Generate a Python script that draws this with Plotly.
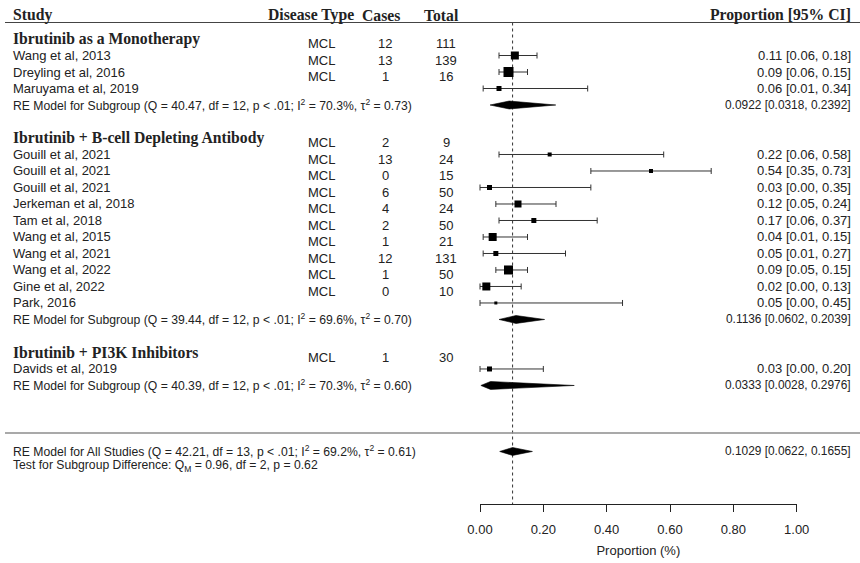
import math
import plotly.graph_objects as go

# ---- subgroup: ibrutinib monotherapy ----
mono_name = "Ibrutinib as a Monotherapy"
mono_studies = ["Wang et al, 2013", "Dreyling et al, 2016", "Maruyama et al, 2019"]
mono_est = [0.11, 0.09, 0.06]
mono_lb = [0.06, 0.06, 0.01]
mono_ub = [0.18, 0.15, 0.34]
mono_cases = [12, 13, 1]
mono_total = [111, 139, 16]
mono_weight = [6.0, 10.0, 2.0]
mono_re = (0.0922, 0.0318, 0.2392)
mono_het = (40.47, 12, 70.3, 0.73)

# ---- subgroup: ibrutinib + B-cell depleting antibody ----
bcell_name = "Ibrutinib + B-cell Depleting Antibody"
bcell_studies = ["Gouill et al, 2021", "Gouill et al, 2021", "Gouill et al, 2021",
                 "Jerkeman et al, 2018", "Tam et al, 2018", "Wang et al, 2015",
                 "Wang et al, 2021", "Wang et al, 2022", "Gine et al, 2022", "Park, 2016"]
bcell_est = [0.22, 0.54, 0.03, 0.12, 0.17, 0.04, 0.05, 0.09, 0.02, 0.05]
bcell_lb = [0.06, 0.35, 0.00, 0.05, 0.06, 0.01, 0.01, 0.05, 0.00, 0.00]
bcell_ub = [0.58, 0.73, 0.35, 0.24, 0.37, 0.15, 0.27, 0.15, 0.13, 0.45]
bcell_cases = [2, 13, 0, 6, 4, 2, 1, 12, 1, 0]
bcell_total = [9, 24, 15, 50, 24, 50, 21, 131, 50, 10]
bcell_weight = [1.1, 1.5, 2.0, 5.2, 2.0, 6.0, 2.0, 7.9, 6.9, 0.8]
bcell_re = (0.1136, 0.0602, 0.2039)
bcell_het = (39.44, 12, 69.6, 0.70)

# ---- subgroup: ibrutinib + PI3K inhibitors ----
pi3k_name = "Ibrutinib + PI3K Inhibitors"
pi3k_studies = ["Davids et al, 2019"]
pi3k_est = [0.03]
pi3k_lb = [0.00]
pi3k_ub = [0.20]
pi3k_cases = [1]
pi3k_total = [30]
pi3k_weight = [2.5]
pi3k_re = (0.0333, 0.0028, 0.2976)
pi3k_het = (40.39, 12, 70.3, 0.60)

disease_type = "MCL"

# ---- pooled model ----
overall_re = (0.1029, 0.0622, 0.1655)
overall_het = (42.21, 13, 69.2, 0.61)
subgroup_test = (0.96, 2, 0.62)

tick_vals = [0.0, 0.2, 0.4, 0.6, 0.8, 1.0]

# ---------------------------------------------------------------------------
W, H = 860, 563
TEXT = "#222222"
SANS = "Liberation Sans, Arial, sans-serif"
SERIF = "Liberation Serif, Times New Roman, serif"
FS = 13          # study names, table cells
FS_STAT = 12.2   # heterogeneity / test lines
FS_POOL = 11.9   # pooled estimates with four decimals
FS_HEAD = 15.7

# row units on the y axis (top row = 0); one row is 16.5 px
Y_TOP, Y_BOT = -2.364, 31.76
# horizontal pixel <-> data mapping: 0 -> 480 px, 1 -> 796.7 px
PX0, PX1 = 480.0, 796.7
X_LO = -PX0 / (PX1 - PX0)
X_HI = (W - PX0) / (PX1 - PX0)


def px(x):
    return x / W


groups = [
    (mono_name, mono_studies, mono_est, mono_lb, mono_ub, mono_cases, mono_total, mono_weight, mono_re, mono_het),
    (bcell_name, bcell_studies, bcell_est, bcell_lb, bcell_ub, bcell_cases, bcell_total, bcell_weight, bcell_re, bcell_het),
    (pi3k_name, pi3k_studies, pi3k_est, pi3k_lb, pi3k_ub, pi3k_cases, pi3k_total, pi3k_weight, pi3k_re, pi3k_het),
]

fig = go.Figure()
annotations = []


def label(text, x, y, anchor="left", size=FS, family=SANS, bold=False):
    if bold:
        text = "<b>" + text + "</b>"
    annotations.append(dict(
        text=text, x=px(x), y=y, xref="paper", yref="y",
        xanchor=anchor, yanchor="middle", showarrow=False,
        borderpad=0, borderwidth=0,
        font=dict(family=family, size=size, color=TEXT),
    ))


def het_text(prefix, het):
    q, df, i2, tau2 = het
    return (f"{prefix} (Q = {q:.2f}, df = {df}, p &lt; .01; I<sup>2</sup> = {i2:.1f}%, "
            f"τ<sup>2</sup> = {tau2:.2f})")


def diamond(y, est, lb, ub, h=0.24):
    fig.add_trace(go.Scatter(
        x=[lb, est, ub, est, lb], y=[y, y - h, y, y + h, y],
        mode="lines", fill="toself", fillcolor="black",
        line=dict(color="black", width=0.6),
        hoverinfo="skip", showlegend=False,
    ))


# column headers
label("Study", 13, -1.45, family=SERIF, size=FS_HEAD, bold=True)
label("Disease Type", 354, -1.45, anchor="right", family=SERIF, size=FS_HEAD, bold=True)
label("Cases", 380.5, -1.45, anchor="center", family=SERIF, size=FS_HEAD, bold=True)
label("Total", 441.5, -1.45, anchor="center", family=SERIF, size=FS_HEAD, bold=True)
label("Proportion [95% CI]", 851, -1.45, anchor="right", family=SERIF, size=FS_HEAD, bold=True)

all_y, all_x, all_plus, all_minus, all_size = [], [], [], [], []
w_max = max(mono_weight + bcell_weight + pi3k_weight)

row = 0
for (gname, studies, est, lb, ub, cases, total, weight, re, het) in groups:
    label(gname, 13, row, family=SERIF, size=FS_HEAD, bold=True)
    for i, name in enumerate(studies):
        y = row + 1 + i
        label(name, 13, y)
        label(f"{est[i]:.2f} [{lb[i]:.2f}, {ub[i]:.2f}]", 851, y, anchor="right")
        # descriptive columns sit one line higher, slightly lowered
        yc = y - 1 + 0.28
        label(disease_type, 321.3, yc, anchor="center")
        label(str(cases[i]), 385, yc, anchor="center")
        label(str(total[i]), 446, yc, anchor="center")
        all_y.append(y)
        all_x.append(est[i])
        all_plus.append(ub[i] - est[i])
        all_minus.append(est[i] - lb[i])
        all_size.append(round(1.0 + 8.5 * math.sqrt(weight[i] / w_max)))
    re_row = row + len(studies) + 1
    label(het_text("RE Model for Subgroup", het), 13, re_row, size=FS_STAT)
    label(f"{re[0]:.4f} [{re[1]:.4f}, {re[2]:.4f}]", 851, re_row, anchor="right", size=FS_POOL)
    diamond(re_row, *re)
    row = re_row + 2

overall_row = row + 2
label(het_text("RE Model for All Studies", overall_het), 13, overall_row, size=FS_STAT)
label(f"{overall_re[0]:.4f} [{overall_re[1]:.4f}, {overall_re[2]:.4f}]", 851, overall_row,
      anchor="right", size=FS_POOL)
diamond(overall_row, *overall_re)
qm, qdf, qp = subgroup_test
label(f"Test for Subgroup Difference: Q<sub>M</sub> = {qm:.2f}, df = {qdf}, p = {qp:.2f}",
      13, overall_row + 0.86, size=FS_STAT)

# confidence intervals (drawn first, underneath the squares)
fig.add_trace(go.Scatter(
    x=all_x, y=all_y, mode="markers",
    marker=dict(size=1, color="rgba(0,0,0,0)"),
    error_x=dict(type="data", symmetric=False, array=all_plus, arrayminus=all_minus,
                 color="#333333", thickness=1, width=3),
    hoverinfo="skip", showlegend=False,
))
# study estimates, square size by weight
fig.add_trace(go.Scatter(
    x=all_x, y=all_y, mode="markers",
    marker=dict(symbol="square", color="black", size=all_size, line=dict(width=0), opacity=1),
    hoverinfo="skip", showlegend=False,
))

# visible proportion axis
fig.add_trace(go.Scatter(x=[0, 1], y=[None, None], xaxis="x2", yaxis="y",
                         mode="lines", hoverinfo="skip", showlegend=False))

AXIS_Y_PX = 504
axis_row = Y_TOP + AXIS_Y_PX / H * (Y_BOT - Y_TOP)

shapes = [
    # header rule
    dict(type="line", xref="paper", yref="y", x0=px(5), x1=1, y0=-1, y1=-1,
         line=dict(color="#444444", width=1.2)),
    # rule above pooled result
    dict(type="line", xref="paper", yref="y", x0=px(5), x1=1, y0=23.88, y1=23.88,
         line=dict(color="#8c8c8c", width=1.6)),
    # reference line at pooled estimate
    dict(type="line", xref="x", yref="y", x0=overall_re[0], x1=overall_re[0],
         y0=-1, y1=axis_row, line=dict(color="#333333", width=1, dash="dot"), layer="below"),
]

fig.update_layout(
    width=W, height=H,
    margin=dict(l=0, r=0, t=0, b=0, autoexpand=False),
    paper_bgcolor="white", plot_bgcolor="rgba(0,0,0,0)",
    showlegend=False,
    xaxis=dict(domain=[0, 1], range=[X_LO, X_HI], visible=False, fixedrange=True),
    yaxis=dict(domain=[0, 1], range=[Y_BOT, Y_TOP], visible=False, fixedrange=True),
    xaxis2=dict(
        domain=[px(PX0), px(PX1)], range=[0, 1], anchor="free",
        position=1 - AXIS_Y_PX / H,
        showline=True, linecolor="#222222", linewidth=1,
        ticks="outside", ticklen=7, tickwidth=1, tickcolor="#222222",
        tickvals=tick_vals, tickformat=".2f",
        ticklabelstandoff=6,
        tickfont=dict(family=SANS, size=FS, color=TEXT),
        showgrid=False, zeroline=False, fixedrange=True, automargin=False,
        title=dict(text="Proportion (%)", font=dict(family=SANS, size=FS, color=TEXT), standoff=10),
    ),
    shapes=shapes,
    annotations=annotations,
)

fig.write_html("out.html")
